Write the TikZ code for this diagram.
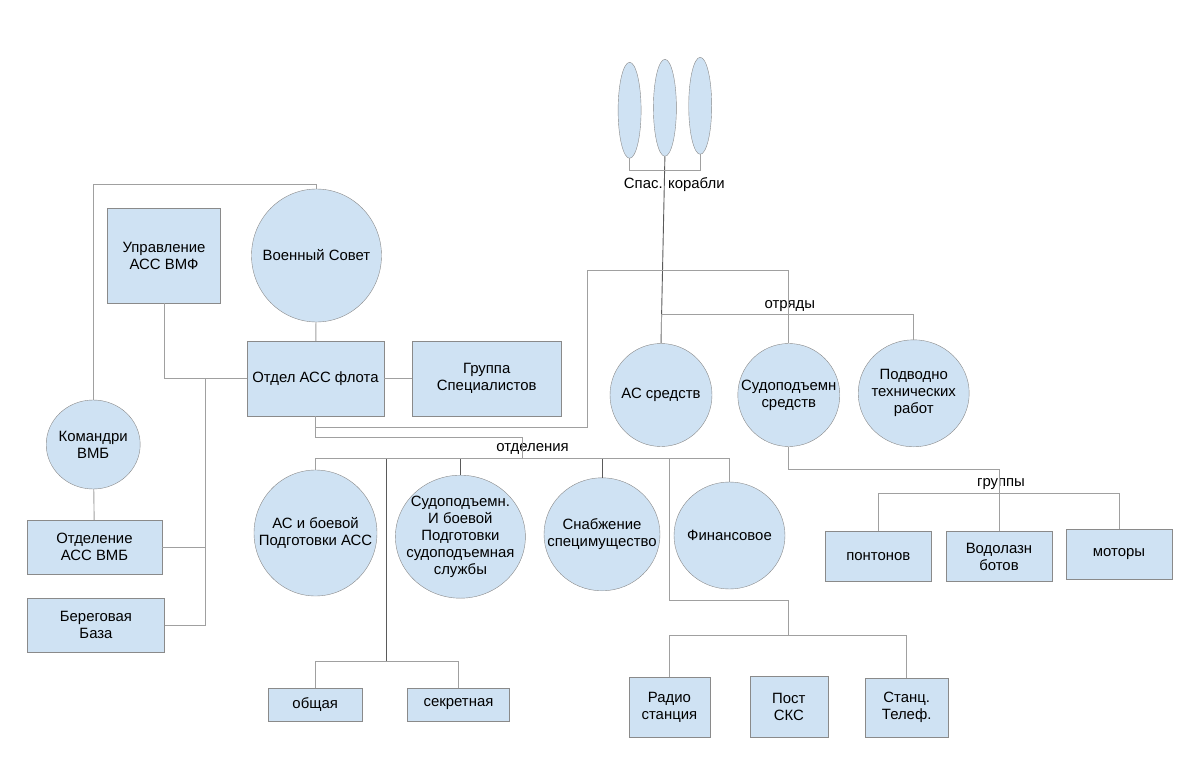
\documentclass[tikz,border=0pt]{standalone}
\usepackage{fontspec}
\setmainfont{Liberation Sans}
\usepackage{xcolor}
\usepackage{tikz}
\usetikzlibrary{shapes.geometric}

\definecolor{boxblue}{HTML}{CFE2F3}
\definecolor{rimgray}{HTML}{8A8A8A}
\definecolor{wiregray}{HTML}{A0A0A0}
\definecolor{wiredark}{HTML}{5A5A5A}
\newcommand{\chartfont}{\fontsize{14.9}{17}\selectfont}

\tikzset{
	unit/.style={rectangle, draw=rimgray, fill=boxblue, inner sep=0pt, align=center, font=\chartfont},
	disc/.style={ellipse, draw=rimgray, fill=boxblue, inner sep=-25pt, align=center, font=\chartfont},
	tag/.style={inner sep=1pt, font=\chartfont},
	wire/.style={color=wiregray, line width=0.9pt},
	darkwire/.style={color=wiredark, line width=0.9pt}
}

\begin{document}
\begin{tikzpicture}[x=1pt,y=-1pt]
		\useasboundingbox (0,0) rectangle (1200,765);
		% ships
		\node[disc, minimum width=23pt, minimum height=96pt] (S1) at (629.6,110.3) {};
		\node[disc, minimum width=23pt, minimum height=97pt] (S2) at (664.9,107.8) {};
		\node[disc, minimum width=23pt, minimum height=97pt] (S3) at (700.2,105.8) {};
		\node[tag] (ships) at (674.3,185) {Спас. корабли};
		%
		\node[unit, minimum width=113pt, minimum height=95pt] (UPR) at (164,255.5) {Управление\\АСС ВМФ};
		\node[disc, minimum width=130pt, minimum height=133pt] (SOV) at (316.5,255.5) {Военный Совет};
		\node[unit, minimum width=137pt, minimum height=75pt] (OTD) at (315.5,378.5) {Отдел АСС флота};
		\node[unit, minimum width=149pt, minimum height=75pt] (GRP) at (486.7,378.5) {Группа\\Специалистов};
		\node[disc, minimum width=94pt, minimum height=89pt] (KOM) at (93.2,444.5) {Командри\\ВМБ};
		\node[unit, minimum width=135pt, minimum height=54pt] (OVMB) at (94.5,547) {Отделение\\АСС ВМБ};
		\node[unit, minimum width=137pt, minimum height=54pt] (BER) at (96,625.3) {Береговая\\База};
		% otryady
		\node[tag] (otr) at (789.8,305.7) {отряды};
		\node[disc, minimum width=102pt, minimum height=103pt] (ASs) at (661,395) {АС средств};
		\node[disc, minimum width=102pt, minimum height=103pt] (SUDs) at (788.8,395) {Судоподъемн\\средств};
		\node[disc, minimum width=111pt, minimum height=107pt] (POD) at (913.7,393.3) {Подводно\\технических\\работ};
		% otdeleniya
		\node[tag] (otdl) at (532.5,448.5) {отделения};
		\node[disc, minimum width=123pt, minimum height=126pt] (ASB) at (315.5,533) {АС и боевой\\Подготовки АСС};
		\node[disc, minimum width=130pt, minimum height=123pt] (SUDB) at (460.4,536.7) {Судоподъемн.\\И боевой\\Подготовки\\судоподъемная\\службы};
		\node[disc, minimum width=116pt, minimum height=113pt] (SNAB) at (602,534.3) {Снабжение\\специмущество};
		\node[disc, minimum width=111pt, minimum height=107pt] (FIN) at (729.5,535.5) {Финансовое};
		\node[unit, minimum width=94pt, minimum height=33pt] (OBSH) at (315.2,704.4) {общая};
		\node[unit, minimum width=102pt, minimum height=33pt] (SEKR) at (458.5,704.4) {секретная};
		\node[unit, minimum width=81pt, minimum height=60pt] (RAD) at (669.4,707) {Радио\\станция};
		\node[unit, minimum width=78pt, minimum height=61pt] (POST) at (788.8,706.5) {Пост\\СКС};
		\node[unit, minimum width=83pt, minimum height=59pt] (STAN) at (906.7,707.7) {Станц.\\Телеф.};
		% gruppy
		\node[tag] (grp) at (1001,484.3) {группы};
		\node[unit, minimum width=106pt, minimum height=50pt] (PON) at (878.3,556.5) {понтонов};
		\node[unit, minimum width=106pt, minimum height=50pt] (VOD) at (999,556.5) {Водолазн\\ботов};
		\node[unit, minimum width=106pt, minimum height=50pt] (MOT) at (1119,554) {моторы};
		%
		\coordinate (lbus) at (205.5,378.5);
		\coordinate (turn) at (587.5,270);
		\coordinate (obus) at (522.4,459);
		\coordinate (sbus) at (386.5,661.7);
		\coordinate (fork) at (669.2,600.3);
		\coordinate (rbus) at (788.4,635.7);
		%
		% straight links
		\path[wire]
		(OTD) edge (GRP)
		(SOV) edge (OTD)
		(KOM) edge (OVMB);
		\path[darkwire]
		(S2.south) edge (ASs.north)
		(SUDB.north) edge (SUDB.north |- obus)
		(SNAB.north) edge (SNAB.north |- obus)
		(sbus |- obus) edge (sbus);
		% bent links
		\draw[wire] (S1.south) -- ++(0,11.7) -| (S3.south);
		\draw[wire] (KOM.north) -- ++(0,-215) -| (SOV.north);
		\draw[wire] (UPR.south) |- (OTD.west);
		\draw[wire] (OVMB.east) -| (lbus);
		\draw[wire] (BER.east) -| (lbus);
		\draw[wire] (OTD.south) -- ++(0,11) -| (turn) -| (SUDs.north);
		\draw[wire] (ASs.north) -- ++(0,-28.6) -| (POD.north);
		\draw[wire] (OTD.south) -- ++(0,21) -| (obus);
		\draw[wire] (ASB.north) -- ++(0,-11) -| (FIN.north);
		\draw[wire] (OBSH.north) |- (sbus) -| (SEKR.north);
		\draw[wire] (fork |- obus) -- (fork) -| (rbus);
		\draw[wire] (RAD.north) |- (rbus) -| (STAN.north);
		\draw[wire] (SUDs.south) -- ++(0,22.6) -| (VOD.north);
		\draw[wire] (PON.north) -- ++(0,-37.4) -| (MOT.north);
	\end{tikzpicture}
\end{document}
